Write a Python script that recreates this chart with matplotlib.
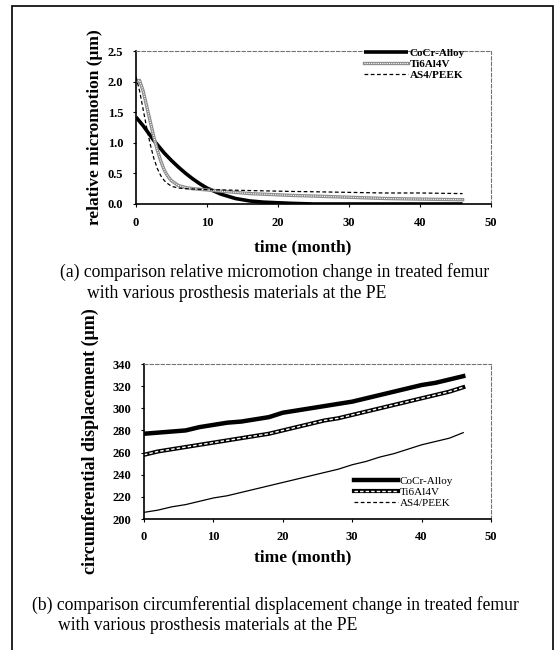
import matplotlib
matplotlib.use("Agg")
import matplotlib.pyplot as plt
from matplotlib.patches import Rectangle
from matplotlib.legend_handler import HandlerTuple

plt.rcParams['font.family'] = ['Liberation Serif', 'DejaVu Serif']

# ================= DATA =================
labels = ["CoCr-Alloy", "Ti6Al4V", "AS4/PEEK"]

# (a) relative micromotion
t_a = [0, 0.5, 1, 1.5, 2, 2.5, 3, 3.5, 4, 4.5, 5, 6, 7, 8, 9, 10,
       12, 14, 16, 18, 20, 22, 25, 30, 35, 40, 46]
cocr_a = [1.42, 1.35, 1.28, 1.20, 1.12, 1.04, 0.97, 0.90, 0.83, 0.77, 0.71,
          0.60, 0.50, 0.41, 0.33, 0.26, 0.16, 0.09, 0.05, 0.03, 0.02, 0.01,
          0.0, 0.0, 0.0, 0.0, 0.0]
ti_a = [2.00, 2.02, 1.85, 1.60, 1.35, 1.10, 0.88, 0.70, 0.55, 0.45, 0.38,
        0.30, 0.27, 0.25, 0.24, 0.23, 0.21, 0.19, 0.17, 0.16, 0.15, 0.14,
        0.13, 0.11, 0.09, 0.08, 0.07]
peek_a = [2.08, 1.85, 1.55, 1.25, 0.98, 0.75, 0.58, 0.46, 0.38, 0.33, 0.29,
          0.26, 0.25, 0.245, 0.24, 0.235, 0.23, 0.225, 0.22, 0.215, 0.21,
          0.205, 0.20, 0.19, 0.18, 0.18, 0.17]

# (b) circumferential displacement
t_b = [0, 2, 4, 6, 8, 10, 12, 14, 16, 18, 20, 22, 24, 26, 28, 30,
       32, 34, 36, 38, 40, 42, 44, 46]
cocr_b = [277, 278, 279, 280, 283, 285, 287, 288, 290, 292, 296, 298,
          300, 302, 304, 306, 309, 312, 315, 318, 321, 323, 326, 329]
ti_b = [258, 261, 263, 265, 267, 269, 271, 273, 275, 277, 280, 283,
        286, 289, 291, 294, 297, 300, 303, 306, 309, 312, 315, 319]
peek_b = [206, 208, 211, 213, 216, 219, 221, 224, 227, 230, 233, 236,
          239, 242, 245, 249, 252, 256, 259, 263, 267, 270, 273, 278]

W, H = 558, 650
fig = plt.figure(figsize=(W / 100, H / 100), dpi=100)


def fx(px):
    return px / W


def fy(py):
    return 1 - py / H


def style_axes(ax, xmax, ylim, yticks, yfmt):
    ax.set_xlim(0, xmax)
    ax.set_ylim(*ylim)
    ax.set_xticks(range(0, 51, 10))
    ax.set_yticks(yticks)
    ax.set_yticklabels([yfmt.format(v) for v in yticks])
    for s in ["top", "right"]:
        ax.spines[s].set_linestyle((0, (3, 2)))
        ax.spines[s].set_color("0.45")
        ax.spines[s].set_linewidth(0.8)
    for s in ["left", "bottom"]:
        ax.spines[s].set_color("black")
        ax.spines[s].set_linewidth(1.2)
    ax.tick_params(length=2, width=0.8, pad=7, labelsize=9)
    for lab in ax.get_xticklabels() + ax.get_yticklabels():
        lab.set_fontweight("bold")


tuple_handler = {tuple: HandlerTuple(ndivide=1, pad=0)}

# ================= (a) =================
ax1 = fig.add_axes([fx(136), fy(204), fx(491) - fx(136), fy(51) - fy(204)])
l1, = ax1.plot(t_a, cocr_a, color="black", lw=2.6, solid_capstyle="butt")
l2a, = ax1.plot(t_a, ti_a, color="0.55", lw=2.4)
l2b, = ax1.plot(t_a, ti_a, color="white", lw=0.8, ls=(0, (1, 1)))
l3, = ax1.plot(t_a, peek_a, color="black", lw=0.9, ls=(0, (3, 2)))
style_axes(ax1, 50, (0, 2.5), [0, 0.5, 1.0, 1.5, 2.0, 2.5], "{:.1f}")
ax1.legend([l1, (l2a, l2b), l3], labels, handler_map=tuple_handler,
           loc="upper left", bbox_to_anchor=(fx(364), fy(48)),
           bbox_transform=fig.transFigure, frameon=False,
           handlelength=4.0, handletextpad=0.1, labelspacing=0.12,
           borderpad=0, borderaxespad=0,
           prop={"weight": "bold", "size": 8})

fig.text(fx(95), fy(127), "relative micromotion (μm)", rotation=90,
         ha="center", va="center", fontsize=12.5, fontweight="bold")
fig.text(fx(303), fy(247), "time (month)", ha="center", va="center",
         fontsize=12.5, fontweight="bold")
fig.text(fx(60), fy(272),
         "(a) comparison relative micromotion change in treated femur",
         ha="left", va="center", fontsize=12.7)
fig.text(fx(87), fy(293), "with various prosthesis materials at the PE",
         ha="left", va="center", fontsize=12.7)

# ================= (b) =================
ax2 = fig.add_axes([fx(144), fy(519), fx(491) - fx(144), fy(364) - fy(519)])
m1, = ax2.plot(t_b, cocr_b, color="black", lw=3.2)
m2a, = ax2.plot(t_b, ti_b, color="black", lw=3.0)
m2b, = ax2.plot(t_b, ti_b, color="white", lw=1.0, ls=(0, (2.5, 1.5)))
m3, = ax2.plot(t_b, peek_b, color="black", lw=0.9)
style_axes(ax2, 50, (200, 340), list(range(200, 341, 20)), "{:d}")
m3leg, = ax2.plot([], [], color="black", lw=0.9, ls=(0, (3, 2)))
ax2.legend([m1, (m2a, m2b), m3leg], labels, handler_map=tuple_handler,
           loc="upper left", bbox_to_anchor=(fx(354), fy(476)),
           bbox_transform=fig.transFigure, frameon=False,
           handlelength=4.0, handletextpad=0.1, labelspacing=0.12,
           borderpad=0, borderaxespad=0,
           prop={"size": 8})

fig.text(fx(90), fy(441), "circumferential displacement (μm)", rotation=90,
         ha="center", va="center", fontsize=13, fontweight="bold")
fig.text(fx(303), fy(557), "time (month)", ha="center", va="center",
         fontsize=12.5, fontweight="bold")
fig.text(fx(32), fy(605),
         "(b) comparison circumferential displacement change in treated femur",
         ha="left", va="center", fontsize=12.7)
fig.text(fx(58), fy(625), "with various prosthesis materials at the PE",
         ha="left", va="center", fontsize=12.7)

# outer frame
fig.patches.append(Rectangle((fx(12), fy(660)), fx(553) - fx(12), fy(6) - fy(660),
                             transform=fig.transFigure, fill=False,
                             edgecolor="black", lw=1.2))

fig.savefig("out.png", dpi=100)
